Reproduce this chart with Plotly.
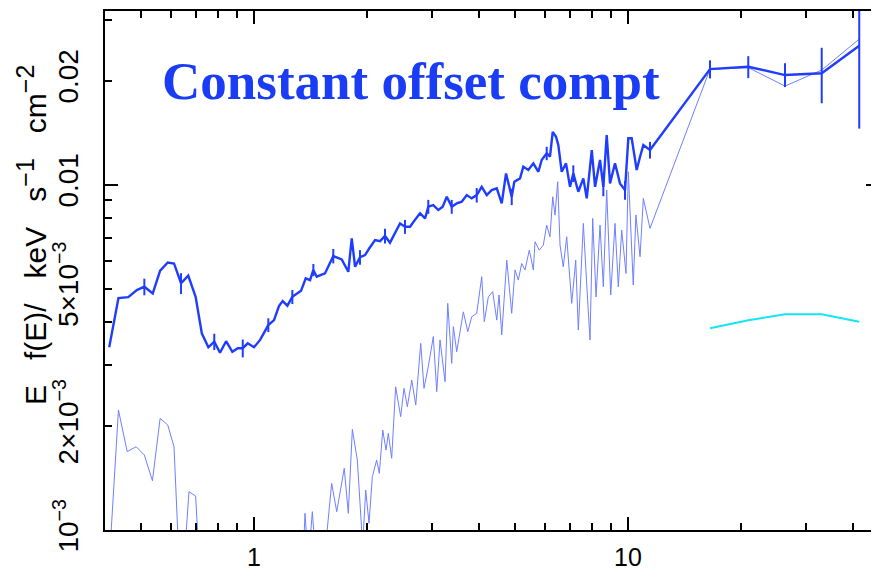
import math
import plotly.graph_objects as go

# ---- data (energy in keV, flux E f(E) in keV s^-1 cm^-2) ----
energy_data = [
    0.41, 0.434, 0.461, 0.486, 0.509, 0.536, 0.561, 0.588, 0.611, 0.638,
    0.667, 0.698, 0.725, 0.755, 0.783, 0.811, 0.842, 0.875, 0.905, 0.933,
    0.962, 1.0, 1.038, 1.092, 1.131, 1.166, 1.193, 1.228, 1.266, 1.336,
    1.375, 1.412, 1.441, 1.471, 1.548, 1.629, 1.716, 1.787, 1.825, 1.863,
    1.92, 1.981, 2.034, 2.107, 2.173, 2.24, 2.31, 2.382, 2.457, 2.533,
    2.613, 2.712, 2.779, 2.867, 2.924, 3.016, 3.11, 3.196, 3.276, 3.378,
    3.483, 3.593, 3.706, 3.82, 3.94, 4.063, 4.191, 4.321, 4.457, 4.596,
    4.719, 4.887, 4.966, 5.144, 5.25, 5.414, 5.584, 5.759, 5.878, 6.062,
    6.186, 6.291, 6.42, 6.511, 6.649, 6.828, 6.998, 7.141, 7.365, 7.596,
    7.757, 8.0, 8.165, 8.417, 8.591, 8.771, 8.953, 9.231, 9.519, 9.817,
    10.02, 10.23, 10.55, 10.77, 10.99, 11.45, 16.57, 20.97, 26.29, 32.96, 41.53,
]
flux_data_e3 = [
    3.38, 4.69, 4.72, 4.95, 5.06, 4.84, 5.63, 5.95, 5.91, 5.18,
    5.45, 4.73, 3.71, 3.38, 3.51, 3.26, 3.52, 3.28, 3.36, 3.36,
    3.47, 3.38, 3.55, 3.92, 4.05, 4.45, 4.60, 4.46, 4.73, 4.93,
    5.35, 5.29, 5.66, 5.41, 5.53, 6.21, 6.07, 5.59, 6.99, 5.78,
    6.16, 6.25, 6.54, 6.91, 6.86, 7.10, 6.79, 7.22, 7.72, 7.55,
    7.55, 7.98, 8.26, 7.98, 8.63, 8.72, 8.44, 8.63, 9.22, 8.63,
    8.82, 8.92, 9.32, 9.12, 9.32, 9.85, 9.32, 9.64, 9.75, 8.82,
    10.77, 9.22, 10.19, 10.42, 11.26, 11.02, 11.52, 10.89, 11.78, 12.31,
    12.04, 14.21, 13.75, 13.01, 10.89, 11.52, 9.85, 10.77, 9.53, 10.42,
    9.12, 12.59, 9.85, 11.78, 9.85, 13.91, 10.08, 11.52, 10.08, 9.64,
    13.61, 13.61, 11.02, 12.04, 13.01, 12.59, 21.59, 21.93, 20.75, 20.99, 25.22,
]
# error bars (index into data arrays, plus / minus in units of 1e-3)
err_index = [4, 9, 14, 19, 23, 28, 32, 35, 40, 45, 49, 54, 59, 64, 71, 79, 87, 94, 99, 105,
             106, 107, 108, 109, 110]
err_plus_e3 = [0.28, 0.36, 0.19, 0.20, 0.18, 0.22, 0.23, 0.30, 0.30, 0.35, 0.35, 0.40, 0.40,
               0.45, 0.50, 0.55, 0.60, 0.60, 0.60, 0.70, 1.3, 1.6, 1.7, 3.9, 10.0]
err_minus_e3 = [0.28, 0.36, 0.19, 0.20, 0.18, 0.22, 0.23, 0.30, 0.30, 0.35, 0.35, 0.40, 0.40,
                0.45, 0.50, 0.55, 0.60, 0.60, 0.60, 0.70, 1.3, 1.6, 1.6, 3.8, 10.7]

energy_model = [
    0.41, 0.434, 0.458, 0.484, 0.509, 0.535, 0.561, 0.588, 0.611, 0.638,
    0.670, 0.698, 0.725, 1.336, 1.369, 1.397, 1.432, 1.465, 1.52, 1.613,
    1.664, 1.743, 1.787, 1.832, 1.889, 1.952, 1.989, 2.030, 2.072, 2.128,
    2.163, 2.209, 2.254, 2.286, 2.334, 2.392, 2.467, 2.518, 2.570, 2.641,
    2.707, 2.791, 2.848, 2.924, 3.016, 3.080, 3.143, 3.242, 3.296, 3.378,
    3.412, 3.483, 3.629, 3.729, 3.820, 3.940, 4.063, 4.128, 4.232, 4.347,
    4.457, 4.52, 4.596, 4.740, 4.887, 4.988, 5.090, 5.197, 5.304, 5.446,
    5.584, 5.641, 5.793, 5.937, 6.062, 6.186, 6.291, 6.380, 6.487, 6.580,
    6.714, 6.856, 7.071, 7.248, 7.365, 7.596, 7.757, 7.914, 8.047, 8.215,
    8.417, 8.591, 8.771, 8.990, 9.231, 9.421, 9.620, 9.878, 10.02, 10.33,
    10.50, 10.77, 10.99, 11.45, 16.57, 20.97, 26.29, 32.96, 41.53,
]
flux_model_e3 = [
    0.80, 2.225, 1.686, 1.742, 1.648, 1.389, 2.105, 2.013, 1.742, 0.60,
    1.291, 1.254, 0.60, 0.60, 1.118, 0.80, 1.130, 0.80, 0.70, 1.365,
    1.130, 1.509, 1.118, 1.956, 1.594, 0.90, 1.305, 1.046, 1.427, 1.594,
    1.459, 1.947, 1.704, 1.905, 1.613, 2.598, 2.128, 2.571, 2.274, 2.717,
    2.300, 3.47, 2.571, 2.970, 3.63, 2.514, 3.55, 2.687, 4.53, 3.037,
    3.88, 3.28, 4.28, 3.75, 4.14, 4.24, 5.41, 4.01, 4.73, 4.90,
    4.05, 4.79, 3.67, 6.04, 4.24, 5.66, 5.29, 5.91, 5.66, 6.46,
    5.66, 6.83, 6.46, 6.68, 7.63, 7.06, 9.22, 8.16, 10.19, 6.68,
    5.78, 7.06, 4.53, 6.04, 3.79, 7.72, 5.12, 3.55, 7.98, 4.73,
    7.63, 5.06, 9.64, 4.79, 7.72, 5.06, 7.38, 5.53, 10.89, 5.12,
    8.16, 6.18, 9.12, 7.47, 21.59, 21.8, 19.28, 21.45, 26.37,
]

energy_hard = [16.57, 20.97, 26.29, 32.96, 41.53]
flux_hard_e3 = [3.84, 4.05, 4.21, 4.21, 4.01]

x_tick_values = [0.4, 0.5, 0.6, 0.7, 0.8, 0.9, 1, 2, 3, 4, 5, 6, 7, 8, 9, 10, 20, 30, 40]
x_tick_labels = {1: "1", 10: "10"}
x_major_ticks = [1, 10]
y_tick_values = [0.001, 0.002, 0.003, 0.004, 0.005, 0.006, 0.007, 0.008, 0.009,
                 0.01, 0.02, 0.03]
y_tick_labels = {0.001: "10<sup>\u22123</sup>", 0.002: "2\u00d710<sup>\u22123</sup>",
                 0.005: "5\u00d710<sup>\u22123</sup>", 0.01: "0.01", 0.02: "0.02"}
y_major_ticks = [0.001, 0.01]

x_range = [0.3995, 46.9]
y_range = [0.001, 0.0318]

title_text = "Constant offset compt"
NB = "\u00a0"
SUP = '<sup><span style="font-size:25px">{}</span></sup>'
y_title = ("E" + NB * 3 + "f(E)/" + NB * 3 + "keV" + NB * 3 + "s" + SUP.format("\u22121")
           + NB * 3 + "cm" + SUP.format("\u22122"))

# ---- build ----
flux_data = [v * 1e-3 for v in flux_data_e3]
flux_model = [v * 1e-3 for v in flux_model_e3]
flux_hard = [v * 1e-3 for v in flux_hard_e3]
ep = [0.0] * len(energy_data)
em = [0.0] * len(energy_data)
for i, p, m in zip(err_index, err_plus_e3, err_minus_e3):
    ep[i] = p * 1e-3
    em[i] = m * 1e-3

BLUE = "#1f3dff"
LIGHT = "#6f7fff"
CYAN = "#14e6f2"
FONT = "Liberation Sans, Arial, sans-serif"
x_tick_font = dict(family=FONT, size=25, color="black")
y_tick_font = dict(family=FONT, size=28, color="black")

fig = go.Figure()
fig.add_trace(go.Scatter(x=energy_model, y=flux_model, mode="lines",
                         line=dict(color=LIGHT, width=1), showlegend=False))
fig.add_trace(go.Scatter(x=energy_data, y=flux_data, mode="lines",
                         line=dict(color=BLUE, width=2.4),
                         error_y=dict(type="data", symmetric=False, array=ep, arrayminus=em,
                                      color=BLUE, thickness=2, width=0),
                         showlegend=False))
fig.add_trace(go.Scatter(x=energy_hard, y=flux_hard, mode="lines",
                         line=dict(color=CYAN, width=2), showlegend=False))
# invisible trace on overlay axes (long decade ticks)
fig.add_trace(go.Scatter(x=[x_range[0]], y=[y_range[0]], mode="markers",
                         marker=dict(opacity=0), xaxis="x2", yaxis="y2",
                         showlegend=False, hoverinfo="skip"))

lx = [math.log10(v) for v in x_range]
ly = [math.log10(v) for v in y_range]

common = dict(showgrid=False, zeroline=False, ticks="inside", tickcolor="black",
              tickwidth=1.5, automargin=False)
fig.update_layout(
    template="none",
    width=871, height=571,
    margin=dict(l=97, r=0, t=3, b=49, autoexpand=False),
    paper_bgcolor="white", plot_bgcolor="white",
    xaxis=dict(type="log", range=lx, tickmode="array", tickvals=x_tick_values,
               ticktext=[x_tick_labels.get(v, "") for v in x_tick_values],
               ticklen=7, showline=True, linecolor="black", linewidth=1.5,
               mirror="ticks", tickfont=x_tick_font, tickangle=0,
               ticklabelstandoff=4, **common),
    yaxis=dict(type="log", range=ly, tickmode="array", tickvals=y_tick_values,
               ticktext=[y_tick_labels.get(v, "") for v in y_tick_values],
               ticklen=7, showline=True, linecolor="black", linewidth=1.5,
               mirror="ticks", tickfont=y_tick_font, tickangle=-90,
               ticklabelstandoff=14, **common),
    xaxis2=dict(type="log", range=lx, overlaying="x", anchor="y2", side="bottom",
                tickmode="array", tickvals=x_major_ticks, ticklen=13,
                showticklabels=False, showline=False, mirror="ticks", **common),
    yaxis2=dict(type="log", range=ly, overlaying="y", anchor="x2", side="left",
                tickmode="array", tickvals=y_major_ticks, ticklen=13,
                showticklabels=False, showline=False, mirror="ticks", **common),
    annotations=[
        dict(text=title_text, xref="paper", yref="paper", x=0.3953, y=0.865,
             xanchor="center", yanchor="middle", showarrow=False,
             font=dict(family="Liberation Serif, Times New Roman, serif", size=53,
                       color="#1a3cf5", weight="bold")),
        dict(text=y_title, xref="paper", yref="paper", x=-0.0945, y=0.568,
             xanchor="center", yanchor="middle", showarrow=False, textangle=-90,
             font=dict(family=FONT, size=30, color="black")),
    ],
)

fig.write_html("out.html")
